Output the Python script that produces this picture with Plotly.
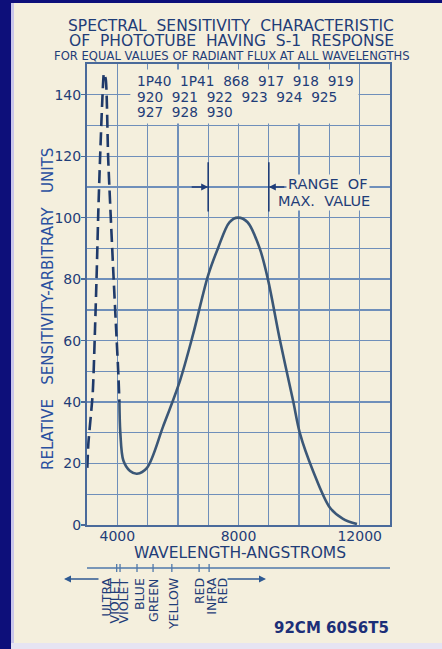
import plotly.graph_objects as go

# ---------------- data ----------------
# dashed (uncertain) short-wavelength portion
dash_wl = [3010, 3045, 3190, 3265, 3320, 3375, 3430, 3500, 3560, 3620, 3700, 3870, 3960, 4035, 4070]
dash_val = [18.6, 26.5, 43, 64, 82, 102.6, 119, 137, 147, 145, 119, 82, 64, 49, 40]

# solid S-1 response curve
solid_wl = [4070, 4100, 4200, 4420, 4650, 4980, 5510, 6070, 6500, 6990, 7320, 7700, 7980,
            8300, 8700, 8970, 9370, 9800, 10030, 10460, 11020, 11450, 11910]
solid_val = [40, 30, 21, 17.6, 16.7, 18.6, 32, 47, 62, 81, 90, 98.5, 100,
             98.5, 90, 80, 60, 40.5, 29.7, 17.6, 5.6, 2, 0.3]

x_tick_vals = [4000, 8000, 12000]
x_tick_text = ["4000", "8000", "12000"]
y_tick_vals = [0, 20, 40, 60, 80, 100, 120, 140]

tube_lines = ["1P40  1P41  868  917  918  919",
              "920  921  922  923  924  925",
              "927  928  930"]

range_max_wl = [7000, 9000]

band_labels = ["ULTRA", "VIOLET", "VIOLET", "BLUE", "GREEN", "YELLOW", "RED", "INFRA", "RED"]
band_label_wl = [3630, 3920, 4220, 4720, 5180, 5840, 6700, 7100, 7460]
band_tick_wl = [3980, 4090, 4650, 5180, 5800, 6700, 7030]

# ---------------- styling ----------------
PAPER = "#f4efdd"
INK = "#1f3d78"
GRID = "#6f8fba"
FRAME = "#4a6a9a"
CURVE = "#3b5777"
FONT = "DejaVu Sans"

fig = go.Figure()
fig.add_trace(go.Scatter(x=dash_wl, y=dash_val, mode="lines",
                         line=dict(color="#1f3a6a", width=2.6, dash="13px,6px", shape="spline", smoothing=0.6),
                         hoverinfo="skip", showlegend=False))
fig.add_trace(go.Scatter(x=solid_wl, y=solid_val, mode="lines",
                         line=dict(color=CURVE, width=2.6, shape="spline", smoothing=0.9),
                         hoverinfo="skip", showlegend=False))

L, R, T, B = 87, 52, 64, 124
W, H = 442, 649
pw, ph = W - L - R, H - T - B


def px_x(px):
    return (px - L) / pw


def px_y(py):
    return (H - B - py) / ph


shapes = []
# cream box behind tube list (hides gridlines)
shapes.append(dict(type="rect", xref="x", yref="y", x0=4430, x1=11960, y0=130.6, y1=148.2,
                   fillcolor=PAPER, line=dict(width=0), layer="between"))
# range-of-max bars
for wl in range_max_wl:
    shapes.append(dict(type="line", xref="x", yref="y", x0=wl, x1=wl, y0=102, y1=118,
                       line=dict(color=INK, width=1.6)))
# color band line and ticks
shapes.append(dict(type="line", xref="paper", yref="paper", x0=0, x1=1, y0=px_y(568), y1=px_y(568),
                   line=dict(color="#4f78aa", width=1.3)))
for wl in band_tick_wl:
    shapes.append(dict(type="line", xref="x", yref="paper", x0=wl, x1=wl, y0=px_y(564), y1=px_y(572),
                       line=dict(color="#4f78aa", width=1.3)))
# navy frame strips of the photo
shapes.append(dict(type="rect", xref="paper", yref="paper", x0=px_x(-5), x1=px_x(11), y0=px_y(660), y1=px_y(-5),
                   fillcolor="#0d0f7a", line=dict(width=0), layer="above"))
shapes.append(dict(type="rect", xref="paper", yref="paper", x0=px_x(11), x1=px_x(14), y0=px_y(660), y1=px_y(-5),
                   fillcolor="#c9c6ea", line=dict(width=0), layer="above"))
shapes.append(dict(type="rect", xref="paper", yref="paper", x0=px_x(-5), x1=px_x(450), y0=px_y(3), y1=px_y(-5),
                   fillcolor="#0d0f7a", line=dict(width=0), layer="above"))
shapes.append(dict(type="rect", xref="paper", yref="paper", x0=px_x(11), x1=px_x(450), y0=px_y(650), y1=px_y(643),
                   fillcolor="#e6e4f2", line=dict(width=0), layer="above"))


def txt(text, x, y, size, xref="paper", yref="paper", xanchor="center", yanchor="middle", **kw):
    color = kw.pop("color", INK)
    return dict(text=text, x=x, y=y, xref=xref, yref=yref, xanchor=xanchor, yanchor=yanchor,
                showarrow=False, font=dict(family=FONT, size=size, color=color), **kw)


ann = []
ann.append(txt("SPECTRAL  SENSITIVITY  CHARACTERISTIC", px_x(231), px_y(26), 15.5))
ann.append(txt("OF  PHOTOTUBE  HAVING  S-1  RESPONSE", px_x(231), px_y(41), 15.5))
ann.append(txt("FOR EQUAL VALUES OF RADIANT FLUX AT ALL WAVELENGTHS", px_x(232), px_y(56), 11.6))
for line, yv in zip(tube_lines, [144.4, 139.2, 134.3]):
    ann.append(txt(line, 4580, yv, 13.7, xref="x", yref="y", xanchor="left"))
# range of max value
ann.append(dict(text="", x=range_max_wl[0], y=110, xref="x", yref="y", ax=-18, ay=0, showarrow=True,
                arrowhead=2, arrowsize=1, arrowwidth=1.4, arrowcolor=INK))
ann.append(dict(text="", x=range_max_wl[1], y=110, xref="x", yref="y", ax=17, ay=0, showarrow=True,
                arrowhead=2, arrowsize=1, arrowwidth=1.4, arrowcolor=INK))
ann.append(txt("RANGE  OF", 9560, 111, 14.5, xref="x", yref="y", xanchor="left", bgcolor=PAPER))
ann.append(txt("MAX.  VALUE", 9250, 105.5, 14.5, xref="x", yref="y", xanchor="left", bgcolor=PAPER))
# axis titles
ann.append(txt("RELATIVE   SENSITIVITY-ARBITRARY   UNITS", px_x(48), px_y(309), 15,
               textangle=-90, color="#2a50a0"))
ann.append(txt("WAVELENGTH-ANGSTROMS", px_x(240), px_y(553), 15.5))
# color band labels
for lab, wl in zip(band_labels, band_label_wl):
    ann.append(txt(lab, wl, px_y(576), 12.5, xref="x", yanchor="top", textangle=-90))
ann.append(dict(text="", x=px_x(64), y=px_y(579), xref="paper", yref="paper", ax=36, ay=0, showarrow=True,
                arrowhead=2, arrowsize=1, arrowwidth=1.4, arrowcolor="#2f5a92"))
ann.append(dict(text="", x=px_x(266), y=px_y(579), xref="paper", yref="paper", ax=-40, ay=0, showarrow=True,
                arrowhead=2, arrowsize=1, arrowwidth=1.4, arrowcolor="#2f5a92"))
ann.append(txt("<b>92CM 60S6T5</b>", px_x(391), px_y(628), 15, xanchor="right", color="#1c2f78"))

fig.update_layout(
    width=W, height=H, autosize=False,
    margin=dict(l=L, r=R, t=T, b=B, autoexpand=False),
    paper_bgcolor=PAPER, plot_bgcolor=PAPER,
    showlegend=False,
    shapes=shapes, annotations=ann,
    xaxis=dict(range=[3000, 13000], tickvals=x_tick_vals, ticktext=x_tick_text,
               showgrid=True, gridcolor=GRID, gridwidth=1.4,
               minor=dict(dtick=1000, tick0=3000, showgrid=True, gridcolor=GRID, gridwidth=1.4),
               showline=True, mirror=True, linecolor=FRAME, linewidth=2, zeroline=False,
               ticks="", ticklabelstandoff=-3, tickfont=dict(family=FONT, size=14, color=INK)),
    yaxis=dict(range=[0, 150], tickvals=y_tick_vals,
               showgrid=True, gridcolor=GRID, gridwidth=1.4,
               minor=dict(dtick=10, tick0=0, showgrid=True, gridcolor=GRID, gridwidth=1.4),
               showline=True, mirror=True, linecolor=FRAME, linewidth=2, zeroline=False,
               ticks="outside", ticklen=4, tickcolor=FRAME, tickwidth=1.4, ticklabelstandoff=-3,
               tickfont=dict(family=FONT, size=14, color=INK)),
)

fig.write_html("out.html", config={"displayModeBar": False, "staticPlot": True},
               post_script="document.body.style.margin='0';document.body.style.overflow='hidden';")
